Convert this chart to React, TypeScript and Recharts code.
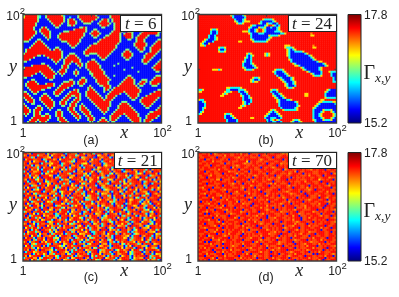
import React from 'react';
import { ScatterChart, Scatter, XAxis, YAxis, ReferenceArea, ReferenceLine, ComposedChart, Bar } from 'recharts';

const GAMMA_LEVELS = [15.55, 15.8, 16.0, 16.2, 16.5, 16.7, 16.9, 17.1, 17.3, 17.45];
const GAMMA_LEVELS_C = [15.55, 15.8, 16.0, 16.25, 16.6, 16.85, 17.05, 17.25, 17.38, 17.45];
const AXIS_TICKS = [1, 50, 100];
const BAR_RANGE = [15.2, 17.8];
const JET_STOPS = ['#7f0000', '#ff0000', '#ffff00', '#00ffff', '#0000ff', '#00007f'];
const JET_OFFSETS = ['0%', '12.5%', '37.5%', '62.5%', '87.5%', '100%'];

const PANEL_A = [
"4999999430049999999630000004999999994000000499999994000049999999999999",
"6999999430049999999940030004999999999400000499999996400049999999999999",
"9999999400004999999940499400499999994004994049999999400049999999999999",
"9999999400000499999940499940049999400049994049999999400049999999999999",
"9999994000000049999400499940004444000499999404999999400049999999999999",
"9999994000000004994000449400000000000049994004999994000049999999999999",
"9999940004940000440000000000449400000004400004999994000004999999999999",
"9999940049994000000000000499999400044000000004999940000000499999999999",
"9999994049999400000044499999999400499400000049999400444000049999999630",
"9999994004999400004999999999994004999940000499994049994000499999999400",
"9999940000499400049999999999994000499400044999994099994004999940004400",
"9999400000049400049999999999940000044000499999994009994049999400000000",
"9994000440004000004999999999400000000049999999994000440049994000000440",
"4440004994000000000444999999400000000499999999994000000049994000004990",
"0000049999400000000000499994000000044999999999940000000499999400049994",
"0000499999940000000000049940000004999999999999400000000499999400499999",
"0004999999994000440000004400000049999999999999400000000049994004999999",
"0499999999999404994000000000000499999999999994000004400004994004999940",
"0499999999999999999400000000004999999999999940000049940000440004999400",
"4999999999999999999400044400004994444999999400000499994000000499994000",
"9999999440499999999400499940000440000499994000000499994000004999940000",
"9999940000004999999404999994000000000049940000000049940000004999400004",
"9994000000000049994049999999400000440004400000000004400000049994000049",
"4400000000000004940049994999400049994000000000000000000000049940000499",
"0000000004400000400049940049940499999400000000040000000000004400004999",
"0000499999994000000499400004940499999940000004000000000000000000049999",
"4999999999999400000499400000400499999940000000000000004000000000499999",
"9999999999999940004994000040000049999994000000000040000000000000049994",
"9999999949999994049994000494000004999999400000000000000004000000004400",
"9999994004999999404940000494000004499999400000000000000000000000000000",
"9999400000499994000400000040000000499999940004000000440000000000004440",
"4400000000049994000000000000044000049999994000000004994000000000049994",
"0000440000000440000000044000499400004999999400000049999400044400499999",
"0049994000000000000044499404999400004999994000000499999400499404999994",
"0499999400049994000499999404994000000499994000004999999404994004999400",
"0499999999999994004999994000440004000044999400049999999940440000444000",
"0049999999994400049999400000000049400000499404999999999994000000000000",
"0004999994400000499940000494000049940000494049999999999999400000000444",
"4400499400000004999400049994000499994000400499999949999999400000049999",
"9940044000440004994000499999400499999400004999994004999994000004999999",
"9994000004994000440004994499400499999940049999400000499994000499999994",
"4999400049999400000049940049400049999994049994000000049940049999999400",
"0499940049999940000499400499400004999999499940000000004400499999994000",
"0049940004999994004994004994000000499999999400000444000000499999940000",
"4000440000499994004994049940040000049999999400004999400000049999400004",
"9400000440049994000440049940494000004999999400049999940000004994000049",
"9940004994004940000000499400499400000499994000049999994000000440000499",
"9994049994000400044000499400499940000049994000499999999400000000004999",
"9994049940000000499400049940049994000004940004999999999940000004499999",
"4940049940044000499400004994004994000000400049999949999994000049999994",
"0400049994499400499400000499400499400000000499994004999994000499999400",
"0000499999999400049940000049400049940004400499940000499999400499994000",
"0004999499994000049994000004000049940049940499400000049999404999400000",
"0049994049940000004999400000000004400499994044000000004999404994000000",
];

const PANEL_B_PATCHES: [number, number, string][] = [
[0,16,"63000036"],[1,17,"3000003"],[2,18,"300036"],[3,18,"630036"],[4,19,"6336"],[3,24,"66"],
[2,32,"633336"],[3,31,"30000036"],[4,30,"6300633003"],[5,26,"633000036996303"],[6,25,"6300063360030036"],
[7,25,"3003699630000036"],[8,22,"66630036996300003336"],[9,25,"6300033300000000336"],[10,26,"300000000633336"],
[11,26,"30000000036"],[12,26,"6300000036"],[13,27,"63333336"],
[7,6,"6336"],[8,6,"3003"],[9,6,"3003"],[10,5,"3003"],[11,5,"30036"],[12,3,"6300036"],[13,2,"630003"],[14,1,"63006"],[15,1,"663"],
[16,10,"6336"],[17,10,"3003"],[18,10,"6336"],
[19,24,"636"],[20,24,"3036"],[21,23,"6303"],[22,23,"3003"],[23,22,"63003"],[24,22,"300036"],[25,22,"3000036"],[26,22,"63000036"],[27,23,"63336"],
[15,43,"666"],[16,43,"63336"],[17,44,"63036"],[18,44,"630033336"],[19,44,"63000000036"],[20,44,"6300000000036"],[21,45,"3000000000036"],
[22,45,"63000000000036"],[23,46,"3000000000000366"],[24,47,"63000000000000036"],[25,48,"66300000000000036"],[26,51,"63000000036"],
[27,52,"6300000036"],[28,54,"63000003"],[29,56,"630003"],[30,57,"63336"],
[19,33,"636"],[20,33,"636"],[27,7,"66636"],[13,20,"66"],[10,56,"66"],[9,56,"7"],[15,57,"7"],[16,57,"66"],[51,26,"66"],[39,53,"66"],[40,53,"66"],
[27,38,"63336"],[28,37,"6300036"],[29,38,"3000036"],[30,39,"3000036"],[31,40,"63000036"],[32,41,"6300036"],[33,42,"6300036"],[34,43,"630036"],[35,43,"630003"],[36,44,"6336"],
[31,27,"6336"],[32,26,"63003"],[33,26,"6366"],
[28,65,"6333"],[29,66,"300"],[30,66,"300"],[31,67,"30"],[32,67,"30"],[33,67,"33"],
[36,14,"66333336"],[37,14,"3300003336"],[38,13,"6336"],[38,20,"30036"],[39,12,"636"],[39,21,"3003"],[40,11,"66"],[40,21,"63003"],[41,22,"30036"],[42,22,"30003"],[43,22,"63003"],[44,22,"6303"],[45,21,"636"],[46,20,"66"],
[42,0,"633"],[43,0,"0036"],[44,0,"0003"],[45,0,"0003"],[46,0,"0036"],[47,0,"003"],[48,0,"036"],[49,0,"36"],[37,0,"336"],[38,0,"66"],
[37,36,"6336"],[38,36,"3003"],[39,37,"30036"],[40,37,"630036"],[41,38,"630036"],[42,39,"63000336"],[43,39,"63000000036"],[44,40,"3000000003"],[45,40,"30000000036"],[46,41,"300000036"],[47,42,"63333336"],
[37,64,"63000"],[38,63,"630000"],[39,63,"300000"],[40,63,"300000"],[41,63,"633333"],[42,61,"66"],[43,60,"663333366"],[44,59,"63000000033"],[45,58,"630000000000"],[46,57,"6300000000000"],
[47,57,"3000063336000"],[48,57,"3000369996300"],[49,57,"3003699999630"],[50,57,"3003699999630"],[51,57,"3000369996300"],[52,57,"6300063336000"],[53,58,"300000000000"],
[49,13,"6336"],[50,13,"30036"],[51,13,"300036"],[52,14,"300003"],[53,14,"300003"],
[47,36,"636"],[48,35,"63036"],[49,34,"6300036"],[50,33,"630000036"],[51,33,"300333003"],[52,34,"3036963"],[53,34,"30033003"],
[52,47,"6336"],[53,46,"630036"],
];

const PANEL_C = [
"897609988870499678890398776099587963889076998860739978895068779903988",
"670889937798605889967097883698807799056887096798839077860899678039978",
"998736089977650889703996887904678891097689830776098869057889397068897",
"068997788036998670589889730997688059796087889930678906998857039886799",
"889605779983068897099876350889970678890379968807758999036887905699780",
"790689880397765889036897709886559078897036898770689930887605979883067",
"887930669887058997738890669703988760899065778939087699880367890599786",
"608897739068890577996083889760398897056987893077680998379068876099587",
"997068850399877689057396880679788903769988605897730899067988739068879",
"380896679088375998607889930776089859063798870689903677985088397608996",
"896077899305688970798863099778650389907688935067889709986357088799603",
"079388670998856003978897660899375087998670389906788593076998880367799",
"988605739088997067388905699873079688950367798806989730785609938877069",
"760899358706997889037660988795038669970888356079983076899057889603977",
"893079968805377890698873009968770589936088706799385067889970369887605",
"098677903988560799883760689905377889096786309988705693789880679039887",
"879036699870588937067899583077960888309669877050398968870779360998806",
"605988730796889056399807768935079688900367799885607389096877039968857",
"978803659907788360899705688379096078899035679880773096895068899730768",
"380769889037996680357988906778309959068877603989570689937087660998805",
"886905379988067739058896077983608899730566880979037889606798853097688",
"079988603677890599837060988779503689970788360699885073789906387089967",
"998370688995077830968806379987056688939078760399806897705389960778890",
"670589937068897360988570796889033678905997688360799085698873067988905",
"889036799708563889907687399605878930769988056379887096899730685097788",
"905879660398877089956037889760398857069779983068890376998805677309968",
"788309968507789036699880375998067788930569877096839088756099638870798",
"059968870389076998835067788996037908869705388997760389096687309885067",
"997680379088956077398890660797883059968873067989905378860799635088796",
"368807799605388970689930577880369089776908385099687037988906778350996",
"880795039968877036899605779830688970567993088760399857068899730769088",
"709368889057699833078896057988730699867035898879063778993068860579983",
"986088375909778660398807699853078689907366889705977830689960378885079",
"037799860568893097688305799886073968890577639880759036889970668305897",
"889603778890356998707689930588769037960889753069988670379905887630989",
"670985039778866093889705367980998705688379096078859936087769880350699",
"998377068890596788306997780659083889760379968805677390989867035988796",
"058869937079883605796889073688950379966880753089997068838907665099788",
"887039680997758360899703668895079378860999057683088967035998770689360",
"905788367099836057880979360688759033798860979057688930376899807665098",
"396889705877093698860377989056688903799760588937096887035698979880563",
"788059936087768930589977036889605398870796683089977650388907699830678",
"069883077960889355098776903688970536997880673099885607378996088370695",
"998706388950799673088860399775063898870699358068977903678885096399807",
"680377990685889730596880769930378860995788067303969887750689936077988",
"897065388997360778905689930877603599880766038897053969887360798805679",
"059937788060399887535079688990367788905698730899760385097886630977806",
"887963059688873099760588937069788605399876037889950678830997058866309",
"796088370997765038899607383988056779903668897035886790599836078899760",
"038895679788036990887560399878706389905768830796998605378890377060998",
"889703968857066398977053880699783068995078773096688905379986078830566",
"960578899037688953079988603767999058388760396887057983069788909367885",
"378896605399877063889730569988076038897905687930699883057766089373998",
"887059736988360799805678893097760889536099877306589980367889705966830",
];

const PANEL_D = [
"998898097899899988989799809888999899889998787988909898998998889998908",
"889998998888979988999898898998098889999888998908988998987999889889999",
"988999889099889999887989998889899988909889999878899889998809899988987",
"899088989998898099989889899999878998889999089887998998889899998898899",
"998899979888999898889999608998889889998899889999089888998979998889098",
"889989899998808898999987888998998909889997888989989909888998999889899",
"999888099889989998878999889899889998899098989888999968889809899998889",
"898998998999889907988998899988909889878999989888998998908999888989998",
"988999888979988999890889998988899899998889078998899989887998999088998",
"899088998899999788898998808999889989988999899889709889999888998999889",
"999889898889089999879889988999898809889998889789998908989888999899087",
"889998799888998989908998989878999889990888998899989888979998890899999",
"988908999889899897889999889098998989889879999808988989998899889997888",
"899999889770988899899989908889998987898889990899989888998999688989908",
"998889898999889899088999889798998899909889899989888997999888909999889",
"889909998889999887898908989999889988797998889099898999889988998908989",
"999898889899089988999889997898889990989889998798899889908999899887999",
"887999908889899998889879989908998999888989998890999889798989889999088",
"998890989998879889999880989889799988899909899889998998878909998999889",
"899989888999890899879998889989909888999989887899998089889999889979888",
"988799899889989908888999979889999088989898999878899890989988999889909",
"899908999887989899989880999889899879989908899989888999098889799988999",
"998889979990889898899999887908989999889889789998908989998889099879988",
"889999088998897999889889909989888979998899980889999898878999889908989",
"908989899888999889970898988999899890889999889798989908989988999887999",
"999887998908999889899978889099989889998987899808999889998889799908988",
"888999889899709888999899890988999979888989089999889887999898899099889",
"989908998887999989089889998899979889908989889999088897989999880989899",
"899989880999887989899908899889999878999089889898799988889990999889887",
"998879989899908889999788989889099989889997888989909889999788989899908",
"889090998889998978899899089999887989998889890989997889889998808999889",
"999889899798889099988999889887989908999889988997990888998999879889098",
"888999908989889999780889998989899908887999889898999088979989999889887",
"989887999809989888999899979888908999889899988897999088999889898909998",
"899998889879098999889980899979888999898890989998878999889089989899887",
"998098889999789889899098889999878988909998889999798889098989889999889",
"889999887908998999888979989890999889898999089887999889979888999098899",
"988789999889098999889989788999908889989899878989990889998899979889099",
"899908889799889898999889908888999978989899088999879889899989908899988",
"999889887999089889998979888990899999887989889098999889978889999889089",
"888998999089889799988908989899889997888990999889898799889908999889989",
"989907889999878989889099989888979999889908989889799988809998899889998",
"899889979988999089889899887999890988999789889908999888989799988909989",
"998999088879989998899908889999879888989099889998788999089889979899988",
"889080999889789989899889999087988998899978889990889899987888999089889",
"999889798889099989888979998889909889999878989889099887999889798988999",
"888999889089899987889908999889989979888999088998989889799990889899887",
"989798999888090989899989887999889908998879999889089888999798889909989",
"899988908999889979888999098889899989879889990999888989789999880989898",
"998889990889798998899908889999879889098989998878999889908989799888999",
"889979888999089889899989790888999889998908899889799989888090999889878",
"999088998899979888990889999879889889099988998789998890999889889799908",
"888999879088989999889798989880999889979889998098889899979888999089889",
"989890889799988999088989887999889908999878989899089988999889790988999",
];

const JET = (g: number) => {
  const t = (g - 15.2) / 2.6;
  const c = (v: number) => Math.round(255 * Math.max(0, Math.min(1, 1.5 - Math.abs(4 * t - v))));
  return `rgb(${c(3)},${c(2)},${c(1)})`;
};

const buildB = () => {
  const grid: string[][] = [];
  for (let r = 0; r < 54; r++) grid.push(new Array(69).fill('9'));
  PANEL_B_PATCHES.forEach(([r, c, s]) => {
    for (let i = 0; i < s.length; i++) if (c + i < 69) grid[r][c + i] = s[i];
  });
  return grid.map((x) => x.join(''));
};

const toCells = (rows: string[], cols: number, levels: number[]) => {
  const out: { x: number; y: number; gamma: number }[] = [];
  const n = rows.length;
  rows.forEach((row, r) => {
    const s = row.padEnd(cols, row[row.length - 1]);
    for (let c = 0; c < cols; c++) {
      out.push({ x: 1 + (99 * (c + 0.5)) / cols, y: 100 - (99 * (r + 0.5)) / n, gamma: levels[+s[c]] });
    }
  });
  return out;
};

const SANS = 'Liberation Sans';
const SERIF = 'Liberation Serif';
const INK = '#222';
const PLOT_W = 138.5;
const PLOT_H = 108.5;

const XTick = ({ x, payload }: any) => {
  if (payload.value === 50) return <g />;
  return (
    <text x={payload.value === 1 ? x : x + 1} y={137} textAnchor="middle" fontFamily={SANS} fontSize={12} fill={INK}>
      {payload.value === 1 ? '1' : <>10<tspan dy={-6} fontSize={9.5}>2</tspan></>}
    </text>
  );
};
const YTick = ({ payload }: any) => {
  if (payload.value === 50) return <g />;
  return (
    <text x={payload.value === 1 ? 17 : 25} y={payload.value === 1 ? 125 : 20} textAnchor="end" fontFamily={SANS} fontSize={12} fill={INK}>
      {payload.value === 1 ? '1' : <>10<tspan dy={-6} fontSize={9.5}>2</tspan></>}
    </text>
  );
};

const Panel = ({ rows, cols, left, top, tag, caption, boxW, levels = GAMMA_LEVELS }: any) => {
  const w = PLOT_W / cols;
  const h = PLOT_H / rows.length;
  const cells = toCells(rows, cols, levels);
  const Cell = (p: any) => (
    <rect x={p.cx - w / 2} y={p.cy - h / 2} width={w + 0.4} height={h + 0.4} fill={JET(p.payload.gamma)} />
  );
  return (
    <div style={{ position: 'absolute', left, top, width: 180, height: 145 }}>
      <ScatterChart width={180} height={145} margin={{ left: 0, top: 14.5, right: 18.5, bottom: 0 }}>
        <XAxis type="number" dataKey="x" domain={[1, 100]} ticks={AXIS_TICKS} tick={<XTick />} height={22} axisLine={false} tickLine={false} interval={0} allowDataOverflow
          label={{ value: 'x', position: 'insideBottom', dx: 32, dy: -2, style: { fontFamily: SERIF, fontStyle: 'italic', fontSize: 18, fill: INK } }} />
        <YAxis type="number" dataKey="y" domain={[1, 100]} ticks={AXIS_TICKS} tick={<YTick />} width={23} axisLine={false} tickLine={false} interval={0} allowDataOverflow
          label={{ value: 'y', position: 'insideLeft', dx: 4, dy: -3, style: { fontFamily: SERIF, fontStyle: 'italic', fontSize: 18, fill: INK } }} />
        <Scatter data={cells} shape={Cell} isAnimationActive={false} />
        <ReferenceArea x1={1} x2={100} y1={1} y2={100} fill="none" stroke="#3c3c3c" strokeWidth={1.4} zIndex={900} ifOverflow="visible" />
        {[
          [{ x: 50, y: 1 }, { x: 50, y: 3 }],
          [{ x: 50, y: 100 }, { x: 50, y: 98 }],
          [{ x: 1, y: 50 }, { x: 2.5, y: 50 }],
          [{ x: 100, y: 50 }, { x: 98.5, y: 50 }],
        ].map((segment, i) => (
          <ReferenceLine key={i} segment={segment as any} stroke="#3c3c3c" zIndex={900} />
        ))}
      </ScatterChart>
      <div style={{ position: 'absolute', left: 161.5 - boxW, top: 14.5, width: boxW, height: 17, boxSizing: 'border-box', background: '#fff', border: '1px solid #222', fontFamily: SERIF, fontSize: 17, lineHeight: '15px', textAlign: 'center', color: '#222', whiteSpace: 'pre' }}>
        <i>t</i> = {tag}
      </div>
      <div style={{ position: 'absolute', left: 76, top: 132.5, width: 30, textAlign: 'center', fontFamily: SANS, fontSize: 12.5, lineHeight: '14px', color: INK }}>{caption}</div>
    </div>
  );
};

const BarTick = ({ payload }: any) => (
  <text x={24} y={payload.value === 15.2 ? 127 : 19} fontFamily={SANS} fontSize={12} fill={INK}>{payload.value === 15.2 ? '15.2' : '17.8'}</text>
);

const ColorBar = ({ top, id }: any) => (
  <div style={{ position: 'absolute', left: 340, top, width: 59, height: 145 }}>
    <ComposedChart width={59} height={145} data={[{ name: 'g', range: BAR_RANGE }]} margin={{ left: 8, top: 14.5, right: 0, bottom: 22 }} barCategoryGap={0}>
      <defs>
        <linearGradient id={id} x1="0" y1="0" x2="0" y2="1">
          {JET_STOPS.map((c, i) => <stop key={i} offset={JET_OFFSETS[i]} stopColor={c} />)}
        </linearGradient>
      </defs>
      <XAxis dataKey="name" hide />
      <YAxis orientation="right" width={38} domain={BAR_RANGE} ticks={BAR_RANGE} tick={<BarTick />} axisLine={false} tickLine={false} interval={0} />
      <Bar dataKey="range" fill={`url(#${id})`} stroke="#222" strokeWidth={1} isAnimationActive={false} />
    </ComposedChart>
    <div style={{ position: 'absolute', left: 23.5, top: 61, fontFamily: SERIF, fontSize: 20, lineHeight: '22px', color: INK, whiteSpace: 'pre' }}>
      Γ<i style={{ fontSize: 13.5, position: 'relative', top: 3 }}>x,y</i>
    </div>
  </div>
);

export default function App() {
  const b = buildB();
  return (
    <div style={{ position: 'absolute', left: 0, top: 0, width: 399, height: 297, background: '#fff', overflow: 'hidden', filter: 'blur(0.45px)' }}>
      <Panel rows={PANEL_A} cols={69} left={0} top={0} tag="6" caption="(a)" boxW={41.5} />
      <Panel rows={b} cols={69} left={175} top={0} tag="24" caption="(b)" boxW={49} />
      <Panel rows={PANEL_C} cols={69} left={0} top={137.5} tag="21" caption="(c)" boxW={47.5} levels={GAMMA_LEVELS_C} />
      <Panel rows={PANEL_D} cols={69} left={175} top={137.5} tag="70" caption="(d)" boxW={49} />
      <ColorBar top={0} id="jetA" />
      <ColorBar top={137.5} id="jetB" />
    </div>
  );
}
